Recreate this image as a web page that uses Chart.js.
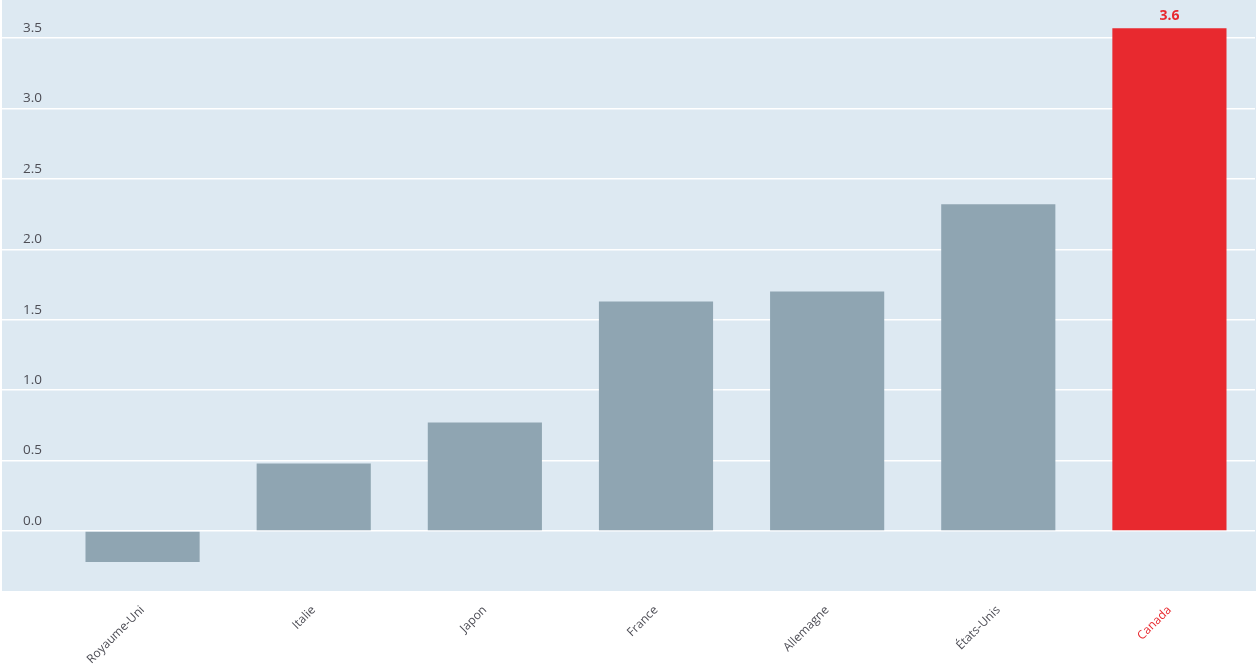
<!DOCTYPE html>
<html>
<head>
<meta charset="utf-8">
<script src="https://cdn.jsdelivr.net/npm/chart.js@4.4.1/dist/chart.umd.min.js"></script>
<style>
  html, body { margin: 0; padding: 0; background: #fff; }
  #wrap { width: 1256px; height: 667px; }
</style>
</head>
<body>
<div id="wrap"><canvas id="myChart" width="1256" height="667"></canvas></div>
<script>
// donnees
const countries = ['Royaume-Uni', 'Italie', 'Japon', 'France', 'Allemagne', 'États-Unis', 'Canada'];
const values = [-0.22, 0.48, 0.77, 1.63, 1.70, 2.32, 3.57];
const yTicks = [0, 0.5, 1.0, 1.5, 2.0, 2.5, 3.0, 3.5];
const highlight = 'Canada';

const GREY = '#8fa5b2';
const RED = '#e8292f';
const BG = '#dde9f2';
const TEXT = '#4d4d55';

// fond bleu clair derriere la zone du graphique (y compris la zone des etiquettes y)
const bgPlugin = {
    id: 'bgPlugin',
    beforeDraw(chart) {
        const c = chart.ctx;
        c.save();
        c.fillStyle = BG;
        c.fillRect(2, 0, chart.width - 2, chart.chartArea.bottom);
        c.restore();
    }
};

// valeur au-dessus de la barre mise en avant
const valueLabel = {
    id: 'valueLabel',
    afterDatasetsDraw(chart) {
        const meta = chart.getDatasetMeta(0);
        const i = countries.indexOf(highlight);
        const bar = meta.data[i];
        const c = chart.ctx;
        c.save();
        c.font = 'bold 14px "Open Sans", sans-serif';
        c.fillStyle = RED;
        c.textAlign = 'center';
        c.textBaseline = 'bottom';
        c.fillText(values[i].toFixed(1), bar.x, bar.y - 5);
        c.restore();
    }
};

const ctx = document.getElementById('myChart').getContext('2d');
new Chart(ctx, {
    type: 'bar',
    data: {
        labels: countries,
        datasets: [{
            data: values,
            backgroundColor: countries.map(c => c === highlight ? RED : GREY),
            borderWidth: 0,
            barPercentage: 0.667,
            categoryPercentage: 1.0
        }]
    },
    options: {
        responsive: false,
        animation: false,
        layout: { padding: { left: 2, right: 1, top: 0, bottom: 0 } },
        plugins: {
            legend: { display: false },
            tooltip: { enabled: false }
        },
        scales: {
            y: {
                min: -0.426,
                max: 3.77,
                afterBuildTicks(axis) {
                    axis.ticks = yTicks.map(v => ({ value: v }));
                },
                afterFit(axis) {
                    axis.width = 55;
                },
                border: { display: false },
                grid: {
                    color: '#ffffff',
                    lineWidth: 1.5,
                    drawTicks: true,
                    tickLength: 55
                },
                ticks: {
                    mirror: true,
                    padding: -34,
                    labelOffset: -10,
                    color: TEXT,
                    font: { family: '"Open Sans", sans-serif', size: 13.5 },
                    callback: v => Number(v).toFixed(1)
                }
            },
            x: {
                afterFit(axis) {
                    axis.height = 76;
                },
                border: { display: false },
                grid: { display: false },
                ticks: {
                    minRotation: 45,
                    maxRotation: 45,
                    padding: 4,
                    color: c => countries[c.index] === highlight ? RED : TEXT,
                    font: { family: '"Open Sans", sans-serif', size: 12 }
                }
            }
        }
    },
    plugins: [bgPlugin, valueLabel]
});
</script>
</body>
</html>
